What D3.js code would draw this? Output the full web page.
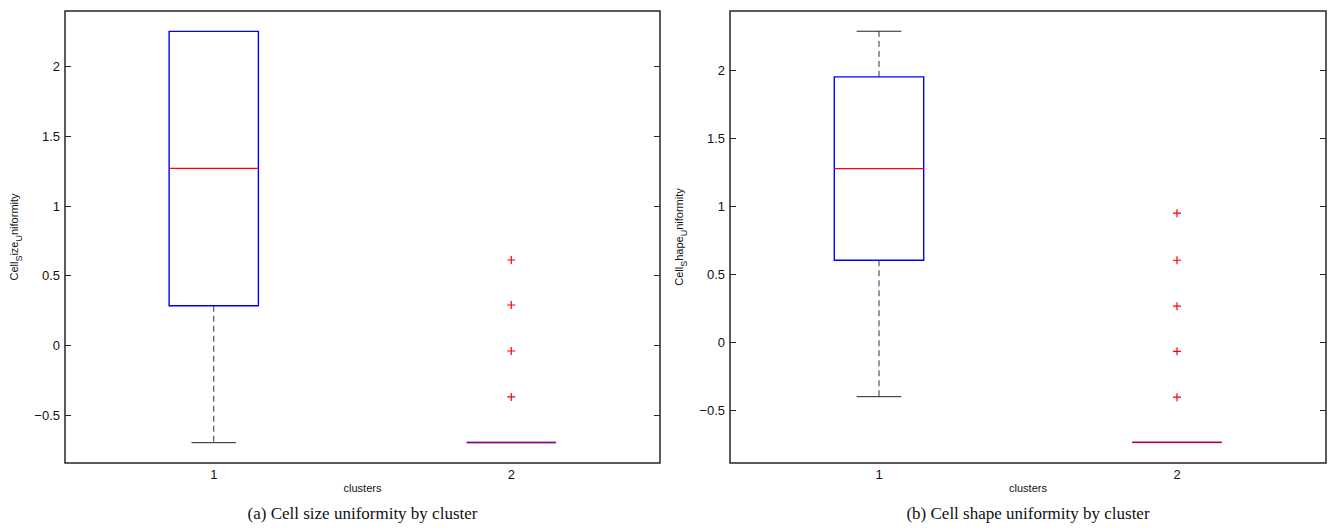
<!DOCTYPE html>
<html>
<head>
<meta charset="utf-8">
<script src="https://cdn.jsdelivr.net/npm/d3@7"></script>
<style>
  body { margin: 0; background: #fff; }
  svg { display: block; }
</style>
</head>
<body>
<script>
var width = 1337, height = 529;

// categories on the x axis
var clusters = [1, 2];
var yTicks = [-0.5, 0, 0.5, 1, 1.5, 2];

// (a) cell size uniformity, box stats per cluster
var sizeQ1 = [0.282, -0.70];
var sizeMedian = [1.268, -0.70];
var sizeQ3 = [2.251, -0.70];
var sizeLow = [-0.701, -0.70];
var sizeHigh = [2.251, -0.70];
var sizeOutliers = [[], [0.61, 0.287, -0.043, -0.373]];

// (b) cell shape uniformity, box stats per cluster
var shapeQ1 = [0.60, -0.74];
var shapeMedian = [1.274, -0.74];
var shapeQ3 = [1.949, -0.74];
var shapeLow = [-0.404, -0.74];
var shapeHigh = [2.285, -0.74];
var shapeOutliers = [[], [0.946, 0.60, 0.262, -0.07, -0.408]];

var panels = [
  { left: 65, right: 660, top: 11, bottom: 463, ylim: [-0.847, 2.397],
    sub1: "S", part1: "ize", caption: "(a) Cell size uniformity by cluster",
    q1: sizeQ1, med: sizeMedian, q3: sizeQ3, lo: sizeLow, hi: sizeHigh, out: sizeOutliers },
  { left: 730, right: 1326, top: 11, bottom: 463, ylim: [-0.892, 2.434],
    sub1: "S", part1: "hape", caption: "(b) Cell shape uniformity by cluster",
    q1: shapeQ1, med: shapeMedian, q3: shapeQ3, lo: shapeLow, hi: shapeHigh, out: shapeOutliers }
];

var svg = d3.select("body").append("svg")
    .attr("width", width)
    .attr("height", height);

var fmt = d3.format("");

panels.forEach(function(p) {
  var x = d3.scaleLinear().domain([0.5, 2.5]).range([p.left, p.right]);
  var y = d3.scaleLinear().domain(p.ylim).range([p.bottom, p.top]);
  var unit = x(1) - x(0);
  var g = svg.append("g");

  // axes box
  g.append("rect")
      .attr("x", p.left).attr("y", p.top)
      .attr("width", p.right - p.left).attr("height", p.bottom - p.top)
      .attr("fill", "none").attr("stroke", "#262626").attr("stroke-width", 1.5);

  // y ticks, inward on both sides
  yTicks.forEach(function(t) {
    var yy = Math.round(y(t)) + 0.5;
    g.append("line").attr("x1", p.left).attr("x2", p.left + 6)
        .attr("y1", yy).attr("y2", yy).attr("stroke", "#262626");
    g.append("line").attr("x1", p.right).attr("x2", p.right - 6)
        .attr("y1", yy).attr("y2", yy).attr("stroke", "#262626");
    g.append("text").attr("x", p.left - 5).attr("y", yy + 4.5)
        .attr("text-anchor", "end")
        .attr("font-family", "Liberation Sans, Arial, sans-serif")
        .attr("font-size", 13).attr("fill", "#111")
        .text(fmt(t));
  });

  // x tick labels
  clusters.forEach(function(c) {
    g.append("text").attr("x", x(c)).attr("y", p.bottom + 16)
        .attr("text-anchor", "middle")
        .attr("font-family", "Liberation Sans, Arial, sans-serif")
        .attr("font-size", 13).attr("fill", "#111")
        .text(c);
  });

  // boxes
  clusters.forEach(function(c, i) {
    var cx = x(c);
    var bw = 0.3 * unit, cw = 0.15 * unit;
    // whiskers
    if (p.hi[i] > p.q3[i]) {
      g.append("line").attr("x1", cx).attr("x2", cx)
          .attr("y1", y(p.q3[i])).attr("y2", y(p.hi[i]))
          .attr("stroke", "#333").attr("stroke-dasharray", "6,4");
      g.append("line").attr("x1", cx - cw / 2).attr("x2", cx + cw / 2)
          .attr("y1", y(p.hi[i])).attr("y2", y(p.hi[i])).attr("stroke", "#222");
    }
    if (p.lo[i] < p.q1[i]) {
      g.append("line").attr("x1", cx).attr("x2", cx)
          .attr("y1", y(p.q1[i])).attr("y2", y(p.lo[i]))
          .attr("stroke", "#333").attr("stroke-dasharray", "6,4");
      g.append("line").attr("x1", cx - cw / 2).attr("x2", cx + cw / 2)
          .attr("y1", y(p.lo[i])).attr("y2", y(p.lo[i])).attr("stroke", "#222");
    }
    var bx0 = cx - bw / 2, bx1 = cx + bw / 2, by0 = y(p.q3[i]), by1 = y(p.q1[i]);
    g.append("path")
        .attr("d", "M" + bx0 + "," + by0 + "H" + bx1 + "V" + by1 + "H" + bx0 + "Z")
        .attr("fill", "none").attr("stroke", "#0000ff").attr("stroke-width", 1.4);
    var flat = p.q3[i] === p.q1[i];
    g.append("line").attr("x1", bx0).attr("x2", bx1)
        .attr("y1", y(p.med[i])).attr("y2", y(p.med[i]))
        .attr("stroke", "#ff0000").attr("stroke-width", flat ? 1.6 : 1.2)
        .attr("stroke-opacity", flat ? 0.6 : 1);
    // outliers as plus markers
    p.out[i].forEach(function(v) {
      var oy = y(v);
      g.append("path")
          .attr("d", "M" + (cx - 4) + "," + oy + "H" + (cx + 4) + "M" + cx + "," + (oy - 4) + "V" + (oy + 4))
          .attr("stroke", "#ff0000").attr("stroke-width", 1.2).attr("fill", "none");
    });
  });

  // x label
  var midX = (p.left + p.right) / 2;
  g.append("text").attr("x", midX).attr("y", p.bottom + 29)
      .attr("text-anchor", "middle")
      .attr("font-family", "Liberation Sans, Arial, sans-serif")
      .attr("font-size", 11).attr("fill", "#111")
      .text("clusters");

  // y label with TeX-like subscripts
  var midY = (p.top + p.bottom) / 2;
  var yl = g.append("text")
      .attr("transform", "translate(" + (p.left - 47) + "," + midY + ") rotate(-90)")
      .attr("text-anchor", "middle")
      .attr("font-family", "Liberation Sans, Arial, sans-serif")
      .attr("font-size", 11).attr("fill", "#111");
  yl.append("tspan").text("Cell");
  yl.append("tspan").attr("dy", 4).attr("font-size", 9).text(p.sub1);
  yl.append("tspan").attr("dy", -4).text(p.part1);
  yl.append("tspan").attr("dy", 4).attr("font-size", 9).text("U");
  yl.append("tspan").attr("dy", -4).text("niformity");

  // caption
  g.append("text").attr("x", midX).attr("y", 519)
      .attr("text-anchor", "middle")
      .attr("font-family", "Liberation Serif, Times New Roman, serif")
      .attr("font-size", 17).attr("fill", "#111")
      .text(p.caption);
});
</script>
</body>
</html>
